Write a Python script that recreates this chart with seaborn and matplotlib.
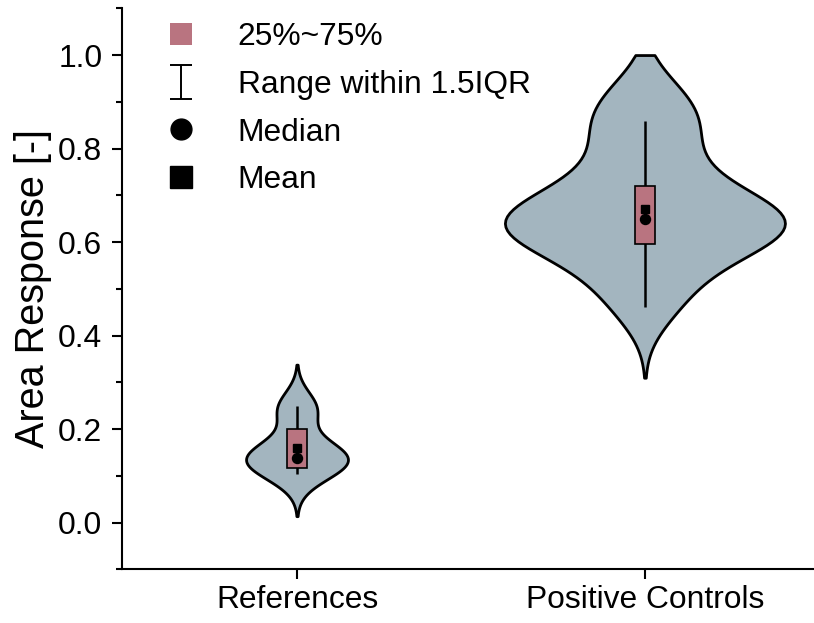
import numpy as np
import pandas as pd
import matplotlib
matplotlib.use("Agg")
import matplotlib.pyplot as plt
from matplotlib.lines import Line2D
from matplotlib.path import Path
from matplotlib.ticker import MultipleLocator, FormatStrFormatter
import seaborn as sns

# ---------------- data ----------------
categories = ["References", "Positive Controls"]
ref_values = [0.104, 0.122, 0.132, 0.138, 0.146, 0.162, 0.240, 0.248]
pc_values = [0.46, 0.52, 0.57, 0.60, 0.615, 0.63, 0.64, 0.65,
             0.67, 0.69, 0.715, 0.77, 0.83, 0.87, 0.92]

q1 = [0.118, 0.595]
q3 = [0.201, 0.720]
whisker_low = [0.104, 0.461]
whisker_high = [0.249, 0.859]
medians = [0.138, 0.650]
means = [0.160, 0.670]

y_ticks = [0.0, 0.2, 0.4, 0.6, 0.8, 1.0]
legend_labels = ["25%~75%", "Range within 1.5IQR", "Median", "Mean"]
y_label = "Area Response [-]"

# ---------------- style ----------------
VIOLIN_COLOR = "#A3B5BF"
BOX_COLOR = "#B97480"
KDE_CUT = 2.5
REF_BW, PC_BW = 0.036, 0.060        # kernel bandwidths in data units
REF_WIDTH, PC_WIDTH = 0.293, 0.805  # violin widths (category units)
BOX_WIDTH = 0.058
TOP_LIMIT = 1.0                      # response cannot exceed 1

sns.set_style("ticks")
plt.rcParams["font.family"] = ["Liberation Sans", "DejaVu Sans"]
plt.rcParams["text.color"] = "black"
plt.rcParams["axes.labelcolor"] = "black"
plt.rcParams["xtick.color"] = "black"
plt.rcParams["ytick.color"] = "black"
plt.rcParams["axes.edgecolor"] = "black"

fig = plt.figure(figsize=(8.14, 6.23), dpi=100)
ax = fig.add_axes([0.1499, 0.0859, 0.8501, 0.9008])

df_ref = pd.DataFrame({"group": categories[0], "value": ref_values})
df_pc = pd.DataFrame({"group": categories[1], "value": pc_values})


def draw_violin(df, bw, width):
    sns.violinplot(data=df, x="group", y="value", order=categories,
                   color=VIOLIN_COLOR, saturation=1, inner=None,
                   cut=KDE_CUT, bw_method=bw / np.std(df["value"], ddof=1),
                   density_norm="width", width=width,
                   linewidth=2.0, linecolor="black", ax=ax, zorder=1)


draw_violin(df_ref, REF_BW, REF_WIDTH)
n_ref = len(ax.collections)
draw_violin(df_pc, PC_BW, PC_WIDTH)

# flatten the positive-control violin at the upper bound of the response
for coll in ax.collections[n_ref:]:
    verts = []
    for p in coll.get_paths():
        v = np.array(p.vertices, dtype=float)
        v[:, 1] = np.minimum(v[:, 1], TOP_LIMIT)
        verts.append(v)
    coll.set_verts(verts)
    coll.set_linewidth(2.0)

pos = np.arange(len(categories))
ax.vlines(pos, whisker_low, whisker_high, color="black", linewidth=1.8, zorder=2)
ax.bar(pos, np.array(q3) - np.array(q1), bottom=q1, width=BOX_WIDTH,
       color=BOX_COLOR, edgecolor="black", linewidth=1.2, zorder=3)
ax.plot(pos, medians, ls="none", marker="o", markersize=7.2,
        color="black", zorder=4)
ax.plot(pos, means, ls="none", marker="s", markersize=5.4,
        color="black", zorder=5)

# ---------------- axes ----------------
ax.set_xlim(-0.503, 1.486)
ax.set_ylim(-0.1, 1.1)
ax.set_xticks(pos)
ax.set_xticklabels(categories)
ax.set_yticks(y_ticks)
ax.yaxis.set_major_formatter(FormatStrFormatter("%.1f"))
ax.yaxis.set_minor_locator(MultipleLocator(0.1))
ax.set_xlabel("")
ax.set_ylabel(y_label, fontsize=28.5, labelpad=4)

ax.tick_params(axis="both", which="major", length=7.2, width=1.5,
               direction="out", labelsize=22.9)
ax.tick_params(axis="y", which="major", pad=7)
ax.tick_params(axis="x", which="major", pad=4)
ax.tick_params(axis="y", which="minor", length=4.3, width=1.5, direction="out")
ax.tick_params(axis="x", which="minor", bottom=False)
sns.despine(ax=ax)
for side in ("left", "bottom"):
    ax.spines[side].set_linewidth(1.5)
    ax.spines[side].set_color("black")

# ---------------- legend ----------------
ibeam = Path([(-0.68, -1), (0.68, -1), (0, -1), (0, 1), (-0.68, 1), (0.68, 1)],
             [Path.MOVETO, Path.LINETO, Path.MOVETO, Path.LINETO,
              Path.MOVETO, Path.LINETO])
handles = [
    Line2D([], [], ls="none", marker="s", markersize=15.8,
           markerfacecolor=BOX_COLOR, markeredgecolor=BOX_COLOR, markeredgewidth=0),
    Line2D([], [], ls="none", marker=ibeam, markersize=24,
           markerfacecolor="none", markeredgecolor="black", markeredgewidth=1.4),
    Line2D([], [], ls="none", marker="o", markersize=15, color="black"),
    Line2D([], [], ls="none", marker="s", markersize=15.5, color="black"),
]
ax.legend(handles, legend_labels, loc="upper left",
          bbox_to_anchor=(165 / 814, 1 - 22 / 623), bbox_transform=fig.transFigure,
          frameon=False, fontsize=22.9, borderpad=0, borderaxespad=0,
          handlelength=1.0, handletextpad=1.29, labelspacing=0.56,
          handleheight=0.7, numpoints=1)

fig.savefig("out.png", dpi=100)
